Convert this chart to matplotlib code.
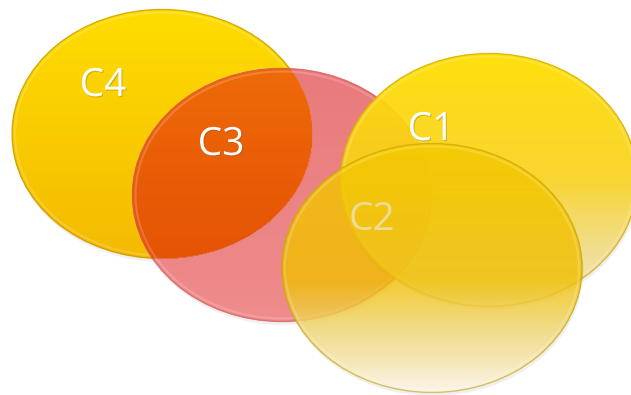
import numpy as np
import matplotlib
matplotlib.use("Agg")
import matplotlib.pyplot as plt
import matplotlib.patheffects as pe
from matplotlib.patches import Ellipse
from matplotlib.colors import to_rgb

W, H = 631, 395

# sets (pixel geometry of the reference), drawn in this order
names = ["C4", "C3", "C1", "C2"]
cx = [162, 282, 489, 432]
cy = [134, 195, 180, 268]
widths = [301, 300, 298, 301]
heights = [250, 254, 254, 250]
label_x = [103, 221, 431, 372]
label_y = [96, 155, 140, 230]

# vertical gradient stops per set: (t, colour, alpha)
stops = [
    [(0, "#ffdd00", 1), (1, "#f4ba00", 1)],
    [(0, "#e97475", 0.95), (1, "#ef8787", 0.95)],
    [(0, "#ffdf00", 0.95), (0.5, "#fbd21c", 0.9), (0.8, "#f1da80", 0.8), (1, "#f4e4b0", 0.75)],
    [(0, "#f8cc00", 0.8), (0.55, "#f5c200", 0.78), (0.75, "#f1d878", 0.85), (1, "#fbf6ea", 0.92)],
]
edge_col = ["#c08c00", "#d45c5c", "#c9a000", "#bfa000"]
text_col = ["white", "white", "white", "#ecdc98"]
# lens where C4 and C3 overlap
over_stops = [(0, "#ee6a08", 1), (0.5, "#e85a06", 1), (1, "#e04e04", 1)]


def gradient(n, st):
    t = np.linspace(0, 1, n)
    ts = [s[0] for s in st]
    arr = np.zeros((n, 1, 4))
    for k in range(3):
        arr[:, 0, k] = np.interp(t, ts, [to_rgb(s[1])[k] for s in st])
    arr[:, 0, 3] = np.interp(t, ts, [s[2] for s in st])
    return arr


fig = plt.figure(figsize=(W / 100, H / 100), dpi=100)
ax = fig.add_axes([0, 0, 1, 1])
ax.set_xlim(0, W); ax.set_ylim(H, 0)
ax.axis("off")

for i, nm in enumerate(names):
    z = 1 + 2 * i
    x0, x1 = cx[i] - widths[i] / 2, cx[i] + widths[i] / 2
    y0, y1 = cy[i] - heights[i] / 2, cy[i] + heights[i] / 2
    # soft drop shadow
    ax.add_patch(Ellipse((cx[i] + 1, cy[i] + 3), widths[i], heights[i], fc="#000000",
                         alpha=0.06, ec="none", zorder=z - 0.2))
    e = Ellipse((cx[i], cy[i]), widths[i], heights[i], fc="none", ec="none")
    ax.add_patch(e)
    im = ax.imshow(gradient(256, stops[i]), extent=(x0, x1, y1, y0), aspect="auto",
                   interpolation="bilinear", zorder=z)
    im.set_clip_path(e)

    if nm == "C3":
        j = names.index("C4")
        ny, nx = 260, 310
        ys = np.linspace(y0, y1, ny); xs = np.linspace(x0, x1, nx)
        X, Y = np.meshgrid(xs, ys)
        inside = ((X - cx[j]) / (widths[j] / 2)) ** 2 + ((Y - cy[j]) / (heights[j] / 2)) ** 2 <= 1
        arr = np.repeat(gradient(ny, over_stops), nx, axis=1)
        arr[..., 3] = inside.astype(float)
        im2 = ax.imshow(arr, extent=(x0, x1, y1, y0), aspect="auto",
                        interpolation="bilinear", zorder=z + 0.3)
        im2.set_clip_path(e)

    # bevel: light inner rim + dark outline
    ax.add_patch(Ellipse((cx[i], cy[i]), widths[i] - 7, heights[i] - 7, fc="none",
                         ec="white", lw=1.5, alpha=0.18, zorder=z + 0.5))
    ax.add_patch(Ellipse((cx[i], cy[i]), widths[i] - 1, heights[i] - 1, fc="none",
                         ec=edge_col[i], lw=1.0, alpha=0.6, zorder=z + 0.6))

for i, nm in enumerate(names):
    fx = [pe.withSimplePatchShadow(offset=(0.8, -0.8), alpha=0.25)] if text_col[i] == "white" else []
    ax.text(label_x[i], label_y[i], nm, color=text_col[i], fontsize=28,
            family="Open Sans", ha="center", va="baseline", zorder=20, path_effects=fx)

fig.savefig("out.png", dpi=100)
